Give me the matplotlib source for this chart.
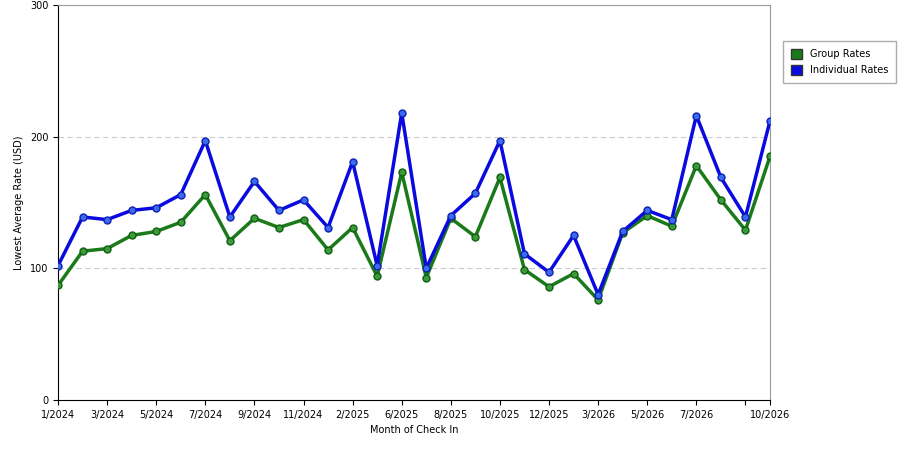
import matplotlib.pyplot as plt
from matplotlib.patches import Patch

labels = ["1/2024", "", "3/2024", "", "5/2024", "", "7/2024", "", "9/2024", "", "11/2024", "",
          "2/2025", "", "6/2025", "", "8/2025", "", "10/2025", "", "12/2025", "", "3/2026", "",
          "5/2026", "", "7/2026", "", "", "10/2026"]
individual = [102, 139, 137, 144, 146, 156, 197, 139, 166, 144, 152, 131, 181, 102, 218,
              100, 140, 157, 197, 111, 97, 125, 80, 128, 144, 137, 216, 169, 139, 212]
group = [87, 113, 115, 125, 128, 135, 156, 121, 138, 131, 137, 114, 131, 94, 173,
         93, 138, 124, 169, 99, 86, 96, 76, 127, 140, 132, 178, 152, 129, 185]
tick_idx = [0, 2, 4, 6, 8, 10, 12, 14, 16, 18, 20, 22, 24, 26, 28, 29]

fig = plt.figure(figsize=(9, 4.5), dpi=100)
ax = fig.add_axes([58 / 900, 50 / 450, 712 / 900, 395 / 450])
x = list(range(len(labels)))

ax.plot(x, group, color="#1a7a1a", lw=2.5, marker="o", ms=5, mfc="#3c9a3c", mec="#0f5f0f", zorder=3)
ax.plot(x, individual, color="#0a0ae0", lw=2.5, marker="o", ms=5, mfc="#3a6af0", mec="#1020b0", zorder=3)

ax.set_xlim(0, len(labels) - 1)
ax.set_ylim(0, 300)
ax.set_yticks([0, 100, 200, 300])
ax.set_xticks(tick_idx)
ax.set_xticklabels([labels[i] for i in tick_idx], fontsize=7)
ax.tick_params(axis="y", labelsize=7)
for y in [100, 200]:
    ax.axhline(y, color="#cccccc", lw=0.8, ls=(0, (5, 3)), zorder=1)
ax.set_xlabel("Month of Check In", fontsize=7)
ax.set_ylabel("Lowest Average Rate (USD)", fontsize=7)
for s in ["top", "right"]:
    ax.spines[s].set_color("#999999")

handles = [Patch(facecolor="#1a7a1a", edgecolor="#333333", label="Group Rates"),
           Patch(facecolor="#0a0ae0", edgecolor="#333333", label="Individual Rates")]
fig.legend(handles=handles, loc="upper left", bbox_to_anchor=(778 / 900, 1 - 36 / 450), fontsize=7,
           handlelength=1.2, handleheight=1.2, labelspacing=0.6, borderpad=0.8,
           frameon=True, fancybox=False, edgecolor="#999999")

fig.savefig("out.png", dpi=100)
